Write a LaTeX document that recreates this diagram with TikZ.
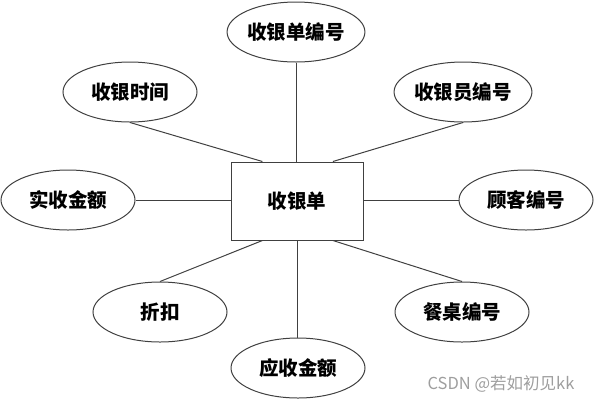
\documentclass[tikz,border=0pt]{standalone}
\usepackage{fontspec}
\newfontfamily\cjk{Noto Sans CJK SC}
\usetikzlibrary{shapes.geometric,calc}
\begin{document}
\begin{tikzpicture}[x=1pt,y=-1pt,
  attr/.style={ellipse,draw=black!75,line width=1pt,minimum width=134pt,minimum height=60pt,inner sep=0pt,font=\cjk\bfseries\fontsize{19.5}{19.5}\selectfont},
  ent/.style={rectangle,draw=black!75,line width=1pt,minimum width=132pt,minimum height=78pt,inner sep=0pt,font=\cjk\bfseries\fontsize{19.5}{19.5}\selectfont},
  link/.style={draw=black!75,line width=1pt},
  wm/.style={text=black!38,inner sep=0pt,font=\cjk\fontsize{16.5}{16.5}\selectfont}]
\useasboundingbox (0,0) rectangle (594,400);
\node[ent] (r) at (297,201) {收银单};
\node[attr] (a1) at (296,32) {收银单编号};
\node[attr] (a2) at (130,92) {收银时间};
\node[attr] (a3) at (463,92) {收银员编号};
\node[attr] (a4) at (68,200) {实收金额};
\node[attr] (a5) at (526,200) {顾客编号};
\node[attr] (a6) at (160,312) {折扣};
\node[attr] (a7) at (462,312) {餐桌编号};
\node[attr] (a8) at (298,368) {应收金额};
\node[wm] (w) at (501,384) {CSDN @若如初见kk};
\draw[link] (a1.south) -- (a1.south |- r.north);
\draw[link] (a2.south) -- ($(r.north west)!0.24!(r.north east)$);
\draw[link] (a3.south) -- ($(r.north west)!0.77!(r.north east)$);
\draw[link] (a4.east) -- (a4.east -| r.west);
\draw[link] (a5.west) -- (a5.west -| r.east);
\draw[link] (a6.north) -- ($(r.south west)!0.24!(r.south east)$);
\draw[link] (a7.north) -- ($(r.south west)!0.77!(r.south east)$);
\draw[link] (a8.north -| r.south) -- (r.south);
\end{tikzpicture}
\end{document}
